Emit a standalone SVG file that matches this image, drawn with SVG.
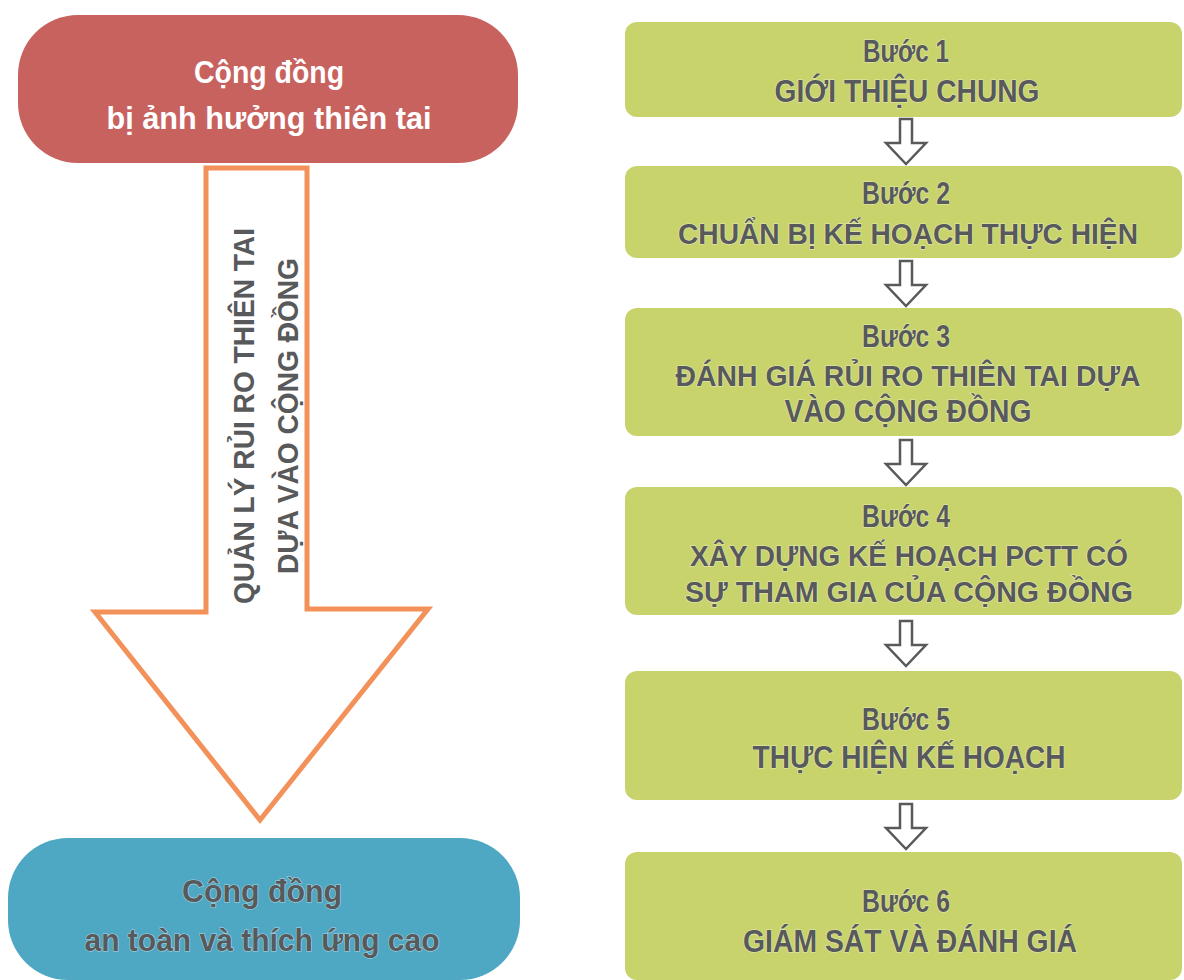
<svg xmlns="http://www.w3.org/2000/svg" xmlns:xlink="http://www.w3.org/1999/xlink" width="1184" height="980" viewBox="0 0 1184 980">
<style>
.t{font-family:"Liberation Sans","Noto Sans",sans-serif;font-weight:bold;text-anchor:middle}
.w{fill:#ffffff;font-size:32px}
.g{fill:#58595b;stroke:#ffffff;stroke-opacity:0.55;stroke-width:1.2px;paint-order:stroke;font-size:31px}
.long{font-size:29px}
.step{fill:#c9d36c}
.sa{fill:#ffffff;stroke:#58595b;stroke-width:2.5;stroke-linejoin:miter}
</style>
<defs>
<path id="smallArrow" class="sa" d="M-6,0 H6 V24 H20 L0,45 L-20,24 H-6 Z"/>
</defs>
<rect width="1184" height="980" fill="#ffffff"/>

<g id="connectors">
  <path id="bigArrow" d="M206,168 H307 V609 H428 L260,820 L95,612 H206 Z" fill="#ffffff" stroke="#f2915a" stroke-width="5" stroke-linejoin="miter"/>
  <use xlink:href="#smallArrow" x="906" y="119"/>
  <use xlink:href="#smallArrow" x="906" y="261"/>
  <use xlink:href="#smallArrow" x="906" y="440"/>
  <use xlink:href="#smallArrow" x="906" y="621"/>
  <use xlink:href="#smallArrow" x="906" y="804"/>
</g>

<g id="arrowLabel">
  <text class="t g" style="font-size:30px" textLength="376" lengthAdjust="spacingAndGlyphs" transform="translate(254,416) rotate(-90)" x="0" y="0">QUẢN LÝ RỦI RO THIÊN TAI</text>
  <text class="t g" style="font-size:30px" textLength="316" lengthAdjust="spacingAndGlyphs" transform="translate(298,416) rotate(-90)" x="0" y="0">DỰA VÀO CỘNG ĐỒNG</text>
</g>

<g id="nodeAffected">
  <rect x="18" y="15" width="500" height="148" rx="60" ry="60" fill="#c8625f"/>
  <text class="t w" x="269" y="83" textLength="150" lengthAdjust="spacingAndGlyphs">Cộng đồng</text>
  <text class="t w" x="269" y="129" textLength="325" lengthAdjust="spacingAndGlyphs">bị ảnh hưởng thiên tai</text>
</g>

<g id="nodeSafe">
  <rect x="8" y="838" width="512" height="142" rx="60" ry="60" fill="#4ea7c3"/>
  <text class="t g" style="font-size:32px" x="262" y="902" textLength="160" lengthAdjust="spacingAndGlyphs">Cộng đồng</text>
  <text class="t g" style="font-size:32px" x="262" y="951" textLength="355" lengthAdjust="spacingAndGlyphs">an toàn và thích ứng cao</text>
</g>

<g id="step1">
  <rect class="step" x="625" y="22" width="557" height="95" rx="12"/>
  <text class="t g" x="906" y="62" textLength="86" lengthAdjust="spacingAndGlyphs">Bước 1</text>
  <text class="t g" x="907" y="102" textLength="265" lengthAdjust="spacingAndGlyphs">GIỚI THIỆU CHUNG</text>
</g>

<g id="step2">
  <rect class="step" x="625" y="166" width="557" height="92" rx="12"/>
  <text class="t g" x="906" y="204" textLength="88" lengthAdjust="spacingAndGlyphs">Bước 2</text>
  <text class="t g long" x="908" y="244" textLength="460" lengthAdjust="spacingAndGlyphs">CHUẨN BỊ KẾ HOẠCH THỰC HIỆN</text>
</g>

<g id="step3">
  <rect class="step" x="625" y="308" width="557" height="128" rx="12"/>
  <text class="t g" x="906" y="347" textLength="88" lengthAdjust="spacingAndGlyphs">Bước 3</text>
  <text class="t g long" x="908" y="386" textLength="465" lengthAdjust="spacingAndGlyphs">ĐÁNH GIÁ RỦI RO THIÊN TAI DỰA</text>
  <text class="t g" x="908" y="422" textLength="247" lengthAdjust="spacingAndGlyphs">VÀO CỘNG ĐỒNG</text>
</g>

<g id="step4">
  <rect class="step" x="625" y="487" width="557" height="128" rx="12"/>
  <text class="t g" x="906" y="527" textLength="88" lengthAdjust="spacingAndGlyphs">Bước 4</text>
  <text class="t g long" x="909" y="566" textLength="438" lengthAdjust="spacingAndGlyphs">XÂY DỰNG KẾ HOẠCH PCTT CÓ</text>
  <text class="t g long" x="909" y="602" textLength="448" lengthAdjust="spacingAndGlyphs">SỰ THAM GIA CỦA CỘNG ĐỒNG</text>
</g>

<g id="step5">
  <rect class="step" x="625" y="671" width="557" height="129" rx="12"/>
  <text class="t g" x="906" y="730" textLength="88" lengthAdjust="spacingAndGlyphs">Bước 5</text>
  <text class="t g" x="909" y="768" textLength="313" lengthAdjust="spacingAndGlyphs">THỰC HIỆN KẾ HOẠCH</text>
</g>

<g id="step6">
  <rect class="step" x="625" y="852" width="557" height="128" rx="12"/>
  <text class="t g" x="906" y="912" textLength="88" lengthAdjust="spacingAndGlyphs">Bước 6</text>
  <text class="t g" x="910" y="952" textLength="334" lengthAdjust="spacingAndGlyphs">GIÁM SÁT VÀ ĐÁNH GIÁ</text>
</g>
</svg>
